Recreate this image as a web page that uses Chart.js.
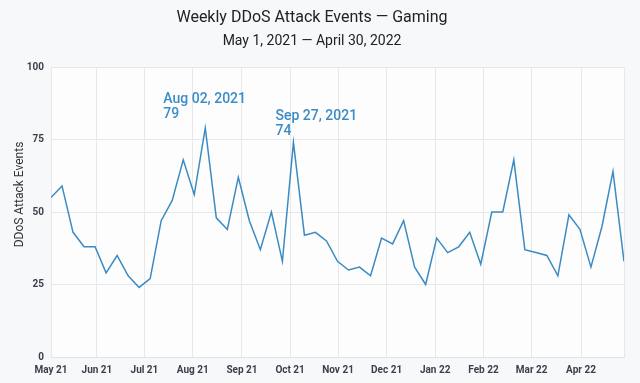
<!DOCTYPE html>
<html>
<head>
<meta charset="utf-8">
<script src="https://cdn.jsdelivr.net/npm/chart.js@4.4.1/dist/chart.umd.min.js"></script>
<style>
  html, body { margin: 0; padding: 0; background: #f7f8fa; }
  #wrap { width: 640px; height: 383px; }
</style>
</head>
<body>
<div id="wrap"><canvas id="c" width="640" height="383"></canvas></div>
<script>
// Week start dates (categories)
const weeks = [
  "Apr 26, 2021","May 03, 2021","May 10, 2021","May 17, 2021","May 24, 2021","May 31, 2021",
  "Jun 07, 2021","Jun 14, 2021","Jun 21, 2021","Jun 28, 2021",
  "Jul 05, 2021","Jul 12, 2021","Jul 19, 2021","Jul 26, 2021",
  "Aug 02, 2021","Aug 09, 2021","Aug 16, 2021","Aug 23, 2021","Aug 30, 2021",
  "Sep 06, 2021","Sep 13, 2021","Sep 20, 2021","Sep 27, 2021",
  "Oct 04, 2021","Oct 11, 2021","Oct 18, 2021","Oct 25, 2021",
  "Nov 01, 2021","Nov 08, 2021","Nov 15, 2021","Nov 22, 2021","Nov 29, 2021",
  "Dec 06, 2021","Dec 13, 2021","Dec 20, 2021","Dec 27, 2021",
  "Jan 03, 2022","Jan 10, 2022","Jan 17, 2022","Jan 24, 2022","Jan 31, 2022",
  "Feb 07, 2022","Feb 14, 2022","Feb 21, 2022","Feb 28, 2022",
  "Mar 07, 2022","Mar 14, 2022","Mar 21, 2022","Mar 28, 2022",
  "Apr 04, 2022","Apr 11, 2022","Apr 18, 2022","Apr 25, 2022"
];

// Weekly DDoS attack events
const events = [
  55,59,43,38,38,29,35,28,24,27,
  47,54,68,56,79,48,44,62,47,37,
  50,33,74,42,43,40,33,30,31,28,
  41,39,47,31,25,41,36,38,43,32,
  50,50,68,37,36,35,28,49,44,31,
  45,64,33
];

// Month tick labels and their positions (in week-index units)
const monthLabels = ["May 21","Jun 21","Jul 21","Aug 21","Sep 21","Oct 21","Nov 21","Dec 21","Jan 22","Feb 22","Mar 22","Apr 22"];
const monthTickAt = [0, 4.17, 8.48, 12.86, 17.33, 21.70, 26.05, 30.46, 34.86, 39.25, 43.62, 48.10];

// y-axis ticks
const yTicks = [0, 25, 50, 75, 100];

// Annotated weeks (indices into weeks/events)
const annotated = [14, 22];

const yTitle = 'DDoS Attack Events';

const pts = events.map((v, i) => ({ x: i, y: v }));

const bgPlugin = {
  id: 'bg',
  beforeDraw(chart) {
    const { ctx, chartArea: a } = chart;
    ctx.save();
    ctx.fillStyle = '#fdfdfe';
    ctx.fillRect(a.left, a.top, a.right - a.left, a.bottom - a.top);
    ctx.restore();
  }
};

const yTitlePlugin = {
  id: 'ytitle',
  afterDraw(chart) {
    const { ctx } = chart;
    ctx.save();
    ctx.translate(20, chart.height / 2 + 3);
    ctx.rotate(-Math.PI / 2);
    ctx.font = '12px Roboto';
    ctx.fillStyle = '#333';
    ctx.textAlign = 'center';
    ctx.textBaseline = 'middle';
    ctx.fillText(yTitle, 0, 0);
    ctx.restore();
  }
};

const annoOffsets = [ { dx: -42, dy: -13 }, { dx: -18, dy: -11 } ];
const annoPlugin = {
  id: 'anno',
  afterDatasetsDraw(chart) {
    const { ctx, scales } = chart;
    ctx.save();
    ctx.font = '500 14px Roboto';
    ctx.fillStyle = '#3a8cc6';
    ctx.textAlign = 'left';
    ctx.textBaseline = 'middle';
    annotated.forEach((idx, k) => {
      const px = scales.x.getPixelForValue(idx);
      const py = scales.y.getPixelForValue(events[idx]);
      const o = annoOffsets[k];
      ctx.fillText(weeks[idx], px + o.dx, py + o.dy - 15);
      ctx.fillText(String(events[idx]), px + o.dx, py + o.dy);
    });
    ctx.restore();
  }
};

new Chart(document.getElementById('c'), {
  type: 'line',
  data: {
    datasets: [{
      label: 'DDoS Attack Events',
      data: pts,
      borderColor: '#3b8bc2',
      borderWidth: 1.5,
      pointRadius: 0,
      tension: 0,
      fill: false
    }]
  },
  options: {
    responsive: false,
    animation: false,
    devicePixelRatio: 1,
    layout: { padding: { left: 0, right: 16, top: 0, bottom: 0 } },
    plugins: {
      legend: { display: false },
      tooltip: { enabled: false },
      title: {
        display: true,
        text: 'Weekly DDoS Attack Events — Gaming',
        color: '#222',
        font: { family: 'Roboto', size: 16, weight: 'normal' },
        padding: { top: 8, bottom: 4 }
      },
      subtitle: {
        display: true,
        text: 'May 1, 2021 — April 30, 2022',
        color: '#222',
        font: { family: 'Roboto', size: 14, weight: 'normal' },
        padding: { top: 2, bottom: 17 }
      }
    },
    scales: {
      x: {
        type: 'linear',
        min: 0,
        max: 52,
        afterBuildTicks(scale) {
          scale.ticks = monthTickAt.map(v => ({ value: v })).concat([{ value: 52 }]);
        },
        afterFit(scale) { scale.height = 26; },
        ticks: {
          autoSkip: false,
          maxRotation: 0,
          padding: 7,
          color: '#3a3f4a',
          font: { family: 'Roboto', size: 10, weight: 'bold' },
          callback(value) {
            const i = monthTickAt.indexOf(value);
            return i >= 0 ? monthLabels[i] : '';
          }
        },
        grid: { color: '#e6e8ec', drawTicks: false },
        border: { color: '#dfe2e6' }
      },
      y: {
        min: 0,
        max: 100,
        afterBuildTicks(scale) {
          scale.ticks = yTicks.map(v => ({ value: v }));
        },
        afterFit(scale) { scale.width = 51; },
        ticks: {
          padding: 7,
          color: '#3a3f4a',
          font: { family: 'Roboto', size: 10, weight: 'bold' }
        },
        grid: { color: '#e6e8ec', drawTicks: false },
        border: { color: '#e6e8ec' }
      }
    }
  },
  plugins: [bgPlugin, annoPlugin, yTitlePlugin]
});
</script>
</body>
</html>
